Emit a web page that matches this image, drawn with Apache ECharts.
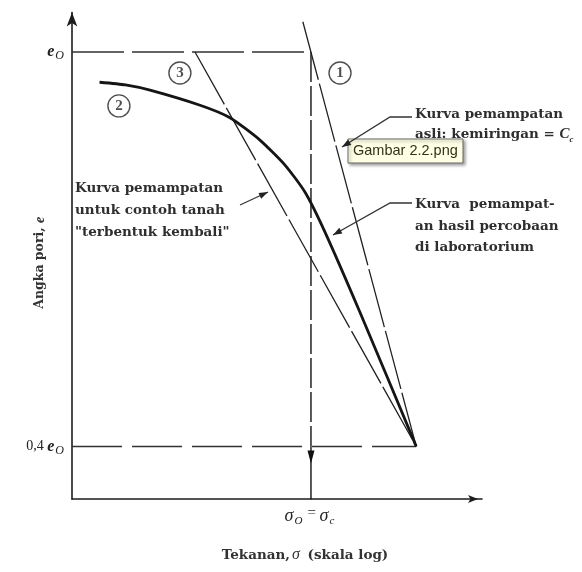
<!DOCTYPE html>
<html>
<head>
<meta charset="utf-8">
<script src="https://cdn.jsdelivr.net/npm/echarts@6/dist/echarts.min.js"></script>
<style>
html, body { margin: 0; padding: 0; background: #fff; }
#c { width: 582px; height: 572px; }
</style>
</head>
<body>
<div id="c"></div>
<script>
// Void ratio e against effective pressure sigma (log scale)
const e0 = 1.0;            // initial void ratio e_o
const eLow = 0.4;          // 0,4 e_o
const sigmaO = 100;        // sigma_o = sigma_c
const sigmaMeet = 760;     // pressure where the three curves meet at 0,4 e_o

// curve 2: laboratory compression curve [sigma, e]
const labCurve = [
  [1.7, 0.954], [2.8, 0.950], [4.5, 0.942], [11.8, 0.919], [21, 0.900],
  [37.4, 0.866], [60.6, 0.828], [89, 0.787], [131, 0.726], [257, 0.604], [760, 0.4]
];
// curve 1: virgin compression line, slope = Cc
const virginCurve = [[85.5, 1.046], [760, 0.4]];
// curve 3: remoulded sample
const remouldedCurve = [[10.7, 1.0], [760, 0.4]];

// circled curve numbers
const curveNames = ['1', '2', '3'];
const curveNamePos = [[175, 0.968], [2.47, 0.918], [8.0, 0.968]];

// y tick values and their labels
const yTickValues = [0.4, 1.0];
const yTickLabels = ['{n|0,4 }{e|e}{s|O}', '{e|e}{s|O}'];
const xTickLabel = '{g|σ}{s|O}{n|= }{g|σ}{s|c}';

const noteVirgin = ['Kurva pemampatan', 'asli: kemiringan = {i|C}{s|c}'];
const noteLab = ['Kurva  pemampat-', 'an hasil percobaan', 'di laboratorium'];
const noteRemoulded = ['Kurva pemampatan', 'untuk contoh tanah', '"terbentuk kembali"'];
const figureTip = 'Gambar 2.2.png';

const INK = '#1c1c1c';
const SERIF = '"DejaVu Serif", "Liberation Serif", serif';
const TIMES = '"Liberation Serif", "DejaVu Serif", serif';

const chart = echarts.init(document.getElementById('c'), null, { renderer: 'canvas' });

function noteText(x, y, lines, lh) {
  return {
    type: 'text', x: x, y: y, z: 20,
    style: {
      text: lines.join('\n'),
      font: 'bold 13.5px ' + SERIF,
      fill: '#2e2e2e',
      lineHeight: lh,
      rich: {
        i: { font: 'bold italic 15px ' + TIMES, fill: '#2e2e2e', lineHeight: lh },
        s: { font: 'bold italic 9px ' + TIMES, fill: '#2e2e2e', verticalAlign: 'bottom', padding: [6, 0, 0, 0], lineHeight: lh }
      }
    }
  };
}

function leader(points) {
  const n = points.length;
  const tip = points[n - 1], prev = points[n - 2];
  const ang = Math.atan2(tip[1] - prev[1], tip[0] - prev[0]);
  const L = 9, W = 3.2;
  const bx = tip[0] - L * Math.cos(ang), by = tip[1] - L * Math.sin(ang);
  const nx = -Math.sin(ang), ny = Math.cos(ang);
  return [
    { type: 'polyline', z: 20, shape: { points: points }, style: { stroke: '#333', lineWidth: 1.3, fill: null } },
    { type: 'polygon', z: 20, shape: { points: [tip, [bx + nx * W, by + ny * W], [bx - nx * W, by - ny * W]] }, style: { fill: '#222' } }
  ];
}

const option = {
  backgroundColor: '#fff',
  animation: false,
  grid: { left: 72, right: 100, top: 12.56, bottom: 73, containLabel: false },
  xAxis: {
    type: 'log', logBase: 10, min: 1, max: 2700,
    name: '{n|Tekanan,}{g|σ}{n| (skala log)}',
    nameLocation: 'middle', nameGap: 48, nameMoveOverlap: false,
    nameTextStyle: {
      padding: [0, 0, 0, 56],
      rich: {
        n: { fontFamily: SERIF, fontSize: 13.5, fontWeight: 'bold', color: '#333' },
        g: { fontFamily: TIMES, fontSize: 16, fontStyle: 'italic', color: '#333', padding: [0, 3, 0, 2] }
      }
    },
    axisLine: { show: true, lineStyle: { color: INK, width: 1.6 }, symbol: ['none', 'arrow'], symbolSize: [6, 10], symbolOffset: [0, -4] },
    axisTick: { show: false }, minorTick: { show: false },
    axisLabel: { show: false },
    splitLine: { show: false }, minorSplitLine: { show: false }
  },
  yAxis: {
    type: 'value', min: 0.32, max: 1.06,
    name: '{n|Angka pori, }{ei|e}',
    nameLocation: 'middle', nameGap: 25, nameRotate: 90, nameMoveOverlap: false,
    nameTextStyle: {
      padding: [0, 0, 0, -14],
      rich: {
        n: { fontFamily: SERIF, fontSize: 12.5, fontWeight: 'bold', color: '#333' },
        ei: { fontFamily: TIMES, fontSize: 14, fontWeight: 'bold', fontStyle: 'italic', color: '#333' }
      }
    },
    axisLine: { show: true, lineStyle: { color: INK, width: 1.6 }, symbol: ['none', 'arrow'], symbolSize: [8, 14] },
    axisTick: { show: false },
    splitLine: { show: false },
    axisLabel: {
      customValues: yTickValues,
      margin: 8,
      formatter: function (v) {
        const i = yTickValues.findIndex(t => Math.abs(t - v) < 1e-9);
        return i >= 0 ? yTickLabels[i] : '';
      },
      rich: {
        n: { fontFamily: TIMES, fontSize: 14, color: '#222' },
        e: { fontFamily: TIMES, fontSize: 16, fontWeight: 'bold', fontStyle: 'italic', color: '#222' },
        s: { fontFamily: TIMES, fontSize: 12, fontStyle: 'italic', color: '#222', verticalAlign: 'bottom', padding: [8, 0, 0, 1] }
      }
    }
  },
  series: [
    {
      name: 'e0 level', type: 'line', symbol: 'none', silent: true,
      data: [[1, e0], [sigmaO, e0]],
      lineStyle: { color: '#333', width: 1.5, type: [52, 8] }
    },
    {
      name: '0.4 e0 level', type: 'line', symbol: 'none', silent: true,
      data: [[1, eLow], [sigmaMeet, eLow]],
      lineStyle: { color: '#333', width: 1.5, type: [50, 10] }
    },
    {
      name: 'sigma_o dashed', type: 'line', symbol: 'none', silent: true,
      data: [[sigmaO, e0], [sigmaO, eLow]],
      lineStyle: { color: '#222', width: 1.5, type: [30, 4] }
    },
    {
      name: 'sigma_o', type: 'line', symbol: 'none', silent: true,
      data: [
        [sigmaO, eLow],
        { value: [sigmaO, 0.384], symbol: 'triangle', symbolRotate: 180, symbolSize: [7, 13], itemStyle: { color: '#111' } },
        {
          value: [sigmaO, 0.32], symbol: 'circle', symbolSize: 1, itemStyle: { color: '#111' },
          label: {
            show: true, position: 'bottom', distance: 6, formatter: xTickLabel,
            rich: {
              g: { fontFamily: TIMES, fontSize: 18, fontStyle: 'italic', color: '#222' },
              n: { fontFamily: TIMES, fontSize: 15, color: '#222', verticalAlign: 'top', padding: [0, 0, 6, 2] },
              s: { fontFamily: TIMES, fontSize: 11, fontStyle: 'italic', color: '#222', verticalAlign: 'bottom', padding: [6, 3, 0, 1] }
            }
          }
        }
      ],
      lineStyle: { color: '#222', width: 1.5 }
    },
    {
      name: 'virgin', type: 'line', symbol: 'none', silent: true,
      data: virginCurve,
      lineStyle: { color: '#222', width: 1.3, type: [60, 4] }
    },
    {
      name: 'remoulded', type: 'line', symbol: 'none', silent: true,
      data: remouldedCurve,
      lineStyle: { color: '#222', width: 1.3, type: [60, 4] }
    },
    {
      name: 'laboratory', type: 'line', symbol: 'none', silent: true,
      smooth: 0.2,
      data: labCurve,
      lineStyle: { color: '#151515', width: 2.8 }
    },
    {
      name: 'curve numbers', type: 'scatter', silent: true, z: 10,
      symbol: 'circle', symbolSize: 22,
      data: curveNames.map((n, i) => ({ name: n, value: curveNamePos[i] })),
      itemStyle: { color: '#fff', borderColor: '#222', borderWidth: 1.4 },
      label: {
        show: true, position: 'inside', formatter: '{b}',
        fontFamily: TIMES, fontSize: 15, fontWeight: 'bold', color: '#222'
      }
    }
  ],
  graphic: [
    noteText(415, 104, noteVirgin, 20),
    noteText(415, 194, noteLab, 21.5),
    noteText(75, 177, noteRemoulded, 22),
    ...leader([[412, 117], [390, 117], [342, 147]]),
    ...leader([[412, 203], [390, 203], [333, 235]]),
    ...leader([[240, 205], [268, 192]]),
    {
      type: 'group', x: 348, y: 139, z: 30,
      children: [
        { type: 'rect', shape: { x: 0, y: 0, width: 115, height: 24 },
          style: { fill: '#ffffe6', stroke: '#666', lineWidth: 1, shadowBlur: 3, shadowOffsetX: 2, shadowOffsetY: 2, shadowColor: 'rgba(0,0,0,0.35)' } },
        { type: 'text', x: 5, y: 4, style: { text: figureTip, font: '14.5px "Liberation Sans", "DejaVu Sans", sans-serif', fill: '#33331a' } }
      ]
    }
  ]
};

chart.setOption(option);
</script>
</body>
</html>
